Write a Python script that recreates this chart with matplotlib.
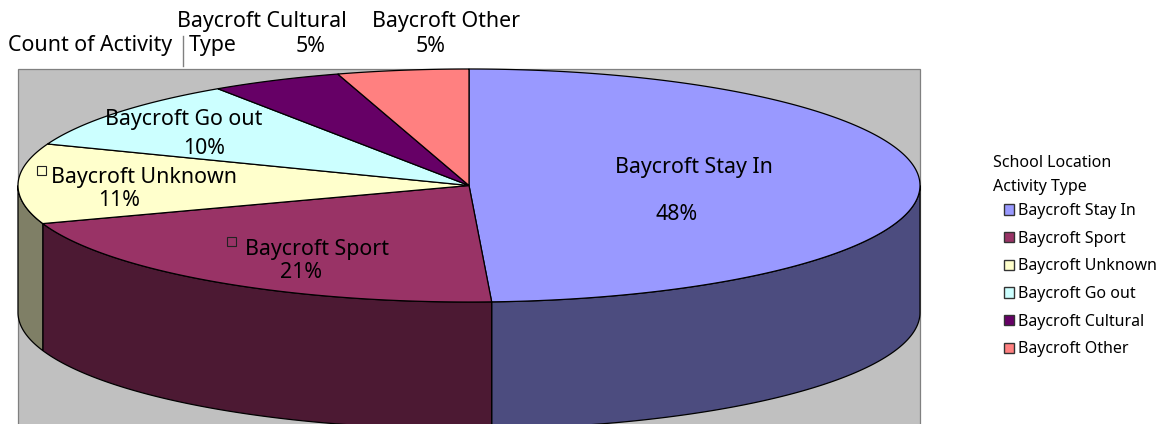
import numpy as np
import matplotlib
matplotlib.use("Agg")
import matplotlib.pyplot as plt
import matplotlib.patches as patches

# slice sizes, clockwise from 12 o'clock
categories = ["Baycroft Stay In", "Baycroft Sport", "Baycroft Unknown",
              "Baycroft Go out", "Baycroft Cultural", "Baycroft Other"]
shares = [49.2, 20.5, 11.1, 9.8, 4.7, 4.7]
pct_labels = ["48%", "21%", "11%", "10%", "5%", "5%"]
colors = ["#9999FF", "#993366", "#FFFFCC", "#CCFFFF", "#660066", "#FF8080"]
side_colors = ["#4C4C7F", "#4C1933", "#7F7F66", "#667F7F", "#330033", "#7F4040"]

plt.rcParams['font.family'] = ['Noto Sans', 'DejaVu Sans']

# pie geometry in pixels
cx, cy = 469, 185.5
rx, ry = 451, 116.5
depth = 127
label_size = 15.4


def rim(theta):
    """Points on the top ellipse, theta in radians clockwise from the top."""
    return cx + rx * np.sin(theta), cy - ry * np.cos(theta)


fig = plt.figure(figsize=(11.64, 4.24), dpi=100)
ax = fig.add_axes([0, 0, 1, 1])
ax.set_xlim(0, 1164)
ax.set_ylim(424, 0)
ax.axis("off")

# Plot area
ax.add_patch(patches.Rectangle((18, 69), 902, 400, facecolor="#C0C0C0",
                               edgecolor="#808080", linewidth=0.9, zorder=1))

edges = np.cumsum([0] + shares) / sum(shares) * 2 * np.pi

# Side walls, only the part of the rim facing the viewer
for i in range(len(shares)):
    lo = max(edges[i], np.pi / 2)
    hi = min(edges[i + 1], 3 * np.pi / 2)
    if hi <= lo:
        continue
    t = np.linspace(lo, hi, 200)
    x, y = rim(t)
    xs = np.concatenate([x, x[::-1]])
    ys = np.concatenate([y, y[::-1] + depth])
    ax.add_patch(patches.Polygon(np.column_stack([xs, ys]), closed=True,
                                 facecolor=side_colors[i], edgecolor="black",
                                 linewidth=0.9, zorder=2))

# Top faces
for i in range(len(shares)):
    t = np.linspace(edges[i], edges[i + 1], 300)
    x, y = rim(t)
    xs = np.concatenate([[cx], x])
    ys = np.concatenate([[cy], y])
    ax.add_patch(patches.Polygon(np.column_stack([xs, ys]), closed=True,
                                 facecolor=colors[i], edgecolor="black",
                                 linewidth=0.9, zorder=3))

# Data labels, name then percent
name_pos = [(694, 168), (317, 249), (144, 178), (184, 119), (262, 22), (446, 22)]
pct_pos = [(677, 215), (301, 273), (119, 201), (204, 148), (311, 46), (431, 46)]
for i in range(len(categories)):
    ax.text(name_pos[i][0], name_pos[i][1], categories[i], fontsize=label_size,
            ha="center", va="center", color="black", zorder=5)
    ax.text(pct_pos[i][0], pct_pos[i][1], pct_labels[i], fontsize=label_size,
            ha="center", va="center", color="black", zorder=5)

# Small leader squares
for sx, sy in [(231, 241), (41, 170)]:
    ax.add_patch(patches.Rectangle((sx - 4.5, sy - 4.5), 9, 9, facecolor="none",
                                   edgecolor="#222222", linewidth=0.8, zorder=5))

# Page field button
ax.text(8, 46, "Count of Activity", fontsize=label_size, ha="left", va="center")
ax.text(189, 46, "Type", fontsize=label_size, ha="left", va="center")
ax.plot([183, 183], [36, 66], color="#808080", linewidth=1.0)

# Legend
ax.text(993, 163, "School Location", fontsize=11.5, ha="left", va="center")
ax.text(993, 187, "Activity Type", fontsize=11.5, ha="left", va="center")
handles = [patches.Patch(facecolor=c, edgecolor="#333333", linewidth=1.0, label=n)
           for c, n in zip(colors, categories)]
ax.legend(handles=handles, loc="upper left", bbox_to_anchor=(1004, 203),
          bbox_transform=ax.transData, frameon=False, fontsize=11.5,
          borderpad=0, borderaxespad=0, handlelength=0.62, handleheight=0.62,
          handletextpad=0.27, labelspacing=0.73)

fig.savefig("out.png", dpi=100)
plt.close(fig)
